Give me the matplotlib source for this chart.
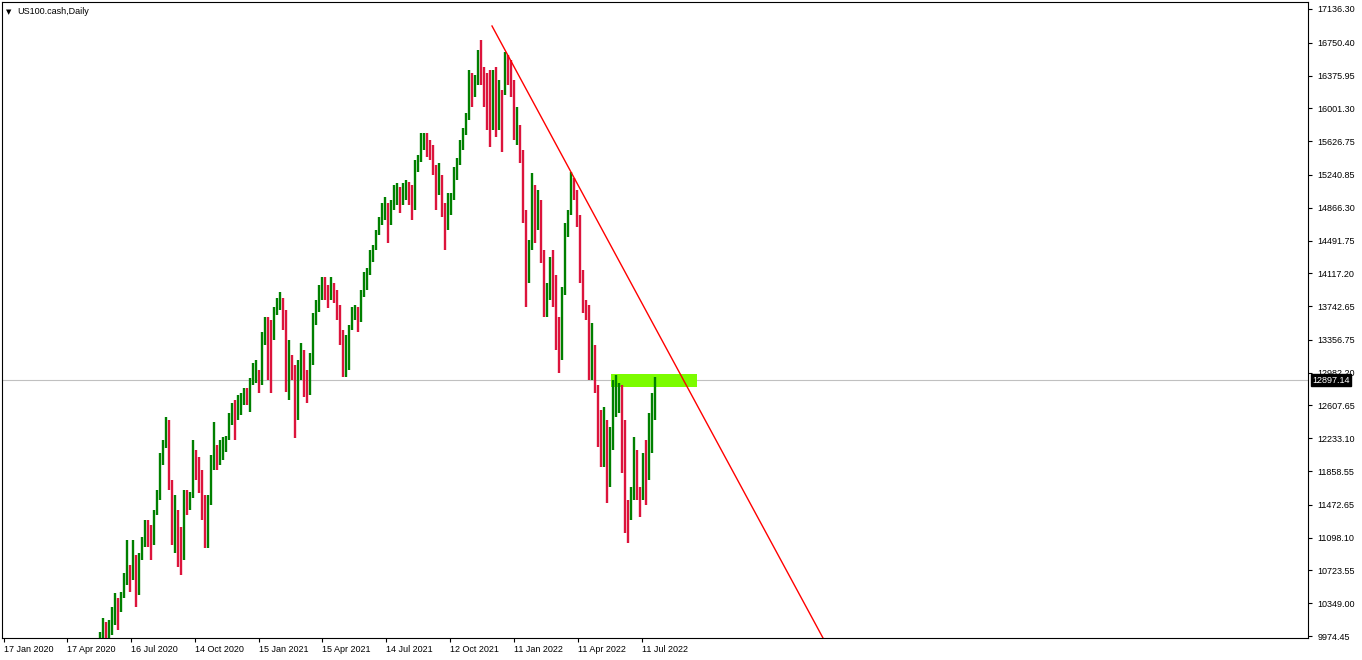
import matplotlib
matplotlib.use('Agg')
import matplotlib.pyplot as plt
import matplotlib.transforms as mtransforms
from matplotlib.patches import Rectangle
import numpy as np

plt.rcParams['font.family'] = ['Liberation Sans', 'DejaVu Sans']

symbol = 'US100.cash,Daily'
date_labels = ['17 Jan 2020', '17 Apr 2020', '16 Jul 2020', '14 Oct 2020', '15 Jan 2021',
               '15 Apr 2021', '14 Jul 2021', '12 Oct 2021', '11 Jan 2022', '11 Apr 2022', '11 Jul 2022']
date_label_idx = [0, 63, 127, 191, 255, 318, 382, 446, 510, 574, 638]
price_ticks = [17136.30, 16750.40, 16375.95, 16001.30, 15626.75, 15240.85, 14866.30, 14491.75,
               14117.20, 13742.65, 13356.75, 12982.20, 12607.65, 12233.10, 11858.55, 11472.65,
               11098.10, 10723.55, 10349.00, 9974.45]

# candles, every third trading day
first_open = 9600
closes = [9700, 9837, 9929, 10100, 10020, 10066, 10215, 10329, 10249, 10409, 10614, 10786, 10614, 10900,
          10443, 10843, 11014, 11185, 11128, 11014, 11357, 11528, 11928, 12122, 12385, 11756, 11299, 11414,
          11014, 10843, 11528, 11471, 11551, 12099, 11985, 11871, 11528, 11185, 11471, 11871, 12122, 12042,
          12122, 12156, 12213, 12385, 12556, 12499, 12613, 12670, 12762, 12727, 12841, 12956, 13013, 12841,
          13298, 13527, 13470, 13355, 13641, 13755, 13835, 13698, 13013, 13127, 13070, 12442, 12956, 13241,
          12841, 12727, 13070, 13527, 13675, 13869, 14041, 13927, 13812, 14007, 13869, 13755, 13413, 13127,
          13298, 13470, 13675, 13675, 13561, 13847, 13984, 14098, 14246, 14383, 14555, 14703, 14817, 14897,
          14669, 14840, 15046, 15069, 14897, 15069, 15092, 15012, 14840, 15297, 15389, 15640, 15663, 15583,
          15526, 15354, 15012, 15240, 14897, 14612, 14783, 14955, 15183, 15354, 15526, 15697, 15868, 16325,
          16154, 16268, 16554, 16382, 16268, 16097, 15754, 16097, 15868, 16211, 16154, 16554, 16440, 16325,
          15811, 15811, 15526, 14840, 14041, 14383, 15126, 14726, 14955, 14383, 13812, 13984, 14212, 14098,
          13470, 13127, 13869, 14555, 14783, 15183, 15069, 14783, 14155, 13812, 13755, 13184, 13298, 12841,
          12327, 12213, 12442, 11699, 12099, 12727, 12784, 12841, 12442, 11357, 11299, 11528, 12099, 11642,
          11528, 11928, 11756, 12385, 12556, 12899]
highs = [9815, 9929, 10020, 10180, 10134, 10157, 10306, 10466, 10409, 10477, 10694, 11071, 10786, 11071,
         10637, 10923, 11105, 11299, 11299, 11242, 11414, 11642, 12065, 12213, 12476, 12442, 11642, 11585,
         11242, 11220, 11642, 11642, 11619, 12213, 12042, 12019, 11871, 11585, 11585, 12042, 12419, 12156,
         12213, 12248, 12259, 12522, 12636, 12670, 12727, 12750, 12807, 12807, 12921, 13093, 13127, 13013,
         13447, 13618, 13618, 13584, 13732, 13835, 13904, 13812, 13355, 13355, 13184, 12750, 13127, 13321,
         13207, 13013, 13207, 13664, 13812, 13984, 14075, 14075, 13984, 14075, 13961, 13927, 13698, 13470,
         13413, 13527, 13732, 13755, 13732, 13927, 14132, 14178, 14383, 14440, 14612, 14760, 14920, 14989,
         14920, 14955, 15126, 15149, 15103, 15149, 15183, 15160, 15126, 15411, 15468, 15720, 15720, 15720,
         15640, 15583, 15354, 15377, 15183, 14920, 15035, 15035, 15332, 15434, 15640, 15777, 15948, 16440,
         16405, 16382, 16668, 16782, 16474, 16405, 16440, 16440, 16474, 16325, 16211, 16645, 16611, 16554,
         16291, 16017, 15640, 15377, 14692, 14498, 15263, 14897, 15069, 14692, 14269, 14007, 14304, 14383,
         13778, 13618, 13961, 14692, 14840, 15274, 15206, 14989, 14646, 14155, 13812, 13584, 13550, 13276,
         12670, 12556, 12590, 12099, 12362, 12899, 12956, 12864, 12670, 11756, 11528, 11676, 12248, 11985,
         11676, 12065, 12213, 12522, 12750, 12933]
lows = [9586, 9700, 9815, 9872, 9906, 9929, 9986, 10100, 10043, 10249, 10443, 10557, 10477, 10671,
        10306, 10523, 10877, 10991, 10991, 10843, 11185, 11391, 11756, 12008, 12156, 11642, 11014, 10923,
        10763, 10671, 11185, 11357, 11414, 11779, 11756, 11608, 11299, 10980, 10980, 11471, 11928, 11871,
        11928, 11985, 12076, 12213, 12385, 12213, 12442, 12499, 12613, 12613, 12533, 12841, 12864, 12750,
        13070, 13321, 12899, 12750, 13527, 13641, 13698, 13470, 12762, 12670, 12899, 12236, 12590, 12899,
        12704, 12636, 12899, 13321, 13550, 13778, 13812, 13812, 13721, 13892, 13778, 13584, 13298, 12933,
        12933, 13013, 13470, 13584, 13447, 13732, 13869, 13927, 14098, 14246, 14383, 14555, 14669, 14726,
        14463, 14726, 14955, 14897, 14806, 14897, 14955, 14897, 14726, 15069, 15274, 15503, 15526, 15446,
        15411, 15240, 14840, 15069, 14760, 14383, 14612, 14783, 14989, 15183, 15354, 15526, 15754, 16131,
        16017, 16131, 16359, 16268, 16017, 15754, 15560, 15754, 15674, 15754, 15503, 16325, 16268, 16131,
        15640, 15583, 15377, 14692, 13732, 14007, 14498, 14463, 14612, 14235, 13618, 13618, 13812, 13732,
        13241, 12979, 13470, 14007, 14532, 14920, 14955, 14646, 14007, 13664, 13584, 12899, 12899, 12750,
        12133, 11905, 11905, 11494, 11676, 12213, 12476, 12522, 11836, 11151, 11037, 11299, 11756, 11528,
        11334, 11676, 11471, 12179, 12065, 12442]

bid_price = 12897.14
zone_start, zone_end = 607, 693
zone_low, zone_high = 12819, 12967
trend_idx = [488, 819]
trend_price = [16942, 9952]

closes = np.array(closes, dtype=float)
opens = np.concatenate([[first_open], closes[:-1]])
hi = np.maximum(np.array(highs, dtype=float), np.maximum(opens, closes))
lo = np.minimum(np.array(lows, dtype=float), np.minimum(opens, closes))
idx = 90 + 3 * np.arange(len(closes))
colors = np.where(closes >= opens, '#008000', '#DC143C')

fig = plt.figure(figsize=(13.62, 6.60), dpi=100)
ax = fig.add_axes([2 / 1362, 22 / 660, 1306 / 1362, 636 / 660])

ax.axhline(bid_price, color='#C0C0C0', lw=0.8, zorder=1)
ax.add_patch(Rectangle((zone_start, zone_low), zone_end - zone_start, zone_high - zone_low,
                       facecolor='#7CFC00', edgecolor='none', zorder=2))
ax.vlines(idx, lo, hi, colors=colors, lw=1.7, zorder=3, capstyle='butt')
ax.plot(trend_idx, trend_price, color='red', lw=1, zorder=4)

ax.set_xlim(-2, 1304)
ax.set_ylim(9952, 17216)

ax.yaxis.tick_right()
ax.set_yticks(price_ticks)
ax.set_yticklabels(['%.2f' % p for p in price_ticks], fontsize=6.5)
ax.tick_params(axis='y', direction='out', length=3, width=0.8, pad=4)

ax.set_xticks(date_label_idx)
ax.set_xticklabels(date_labels, fontsize=6.5, ha='left')
ax.tick_params(axis='x', direction='out', length=3, width=0.8, pad=2)

for s in ax.spines.values():
    s.set_color('black')
    s.set_linewidth(0.8)

trans = mtransforms.blended_transform_factory(ax.transAxes, ax.transData)
ax.text(1.0 + 4 / 1306, bid_price, '%.2f' % bid_price, transform=trans, fontsize=6.5, color='white',
        va='center', ha='left', zorder=10, clip_on=False,
        bbox=dict(boxstyle='square,pad=0.15', facecolor='black', edgecolor='black'))

ax.text(4 / 1306, 1 - 10 / 636, '\u25BC', transform=ax.transAxes, fontsize=5, va='center', ha='left',
        family=['DejaVu Sans'])
ax.text(15 / 1306, 1 - 10 / 636, symbol, transform=ax.transAxes, fontsize=6.5, va='center', ha='left')

fig.savefig('out.png', dpi=100, facecolor='white')
